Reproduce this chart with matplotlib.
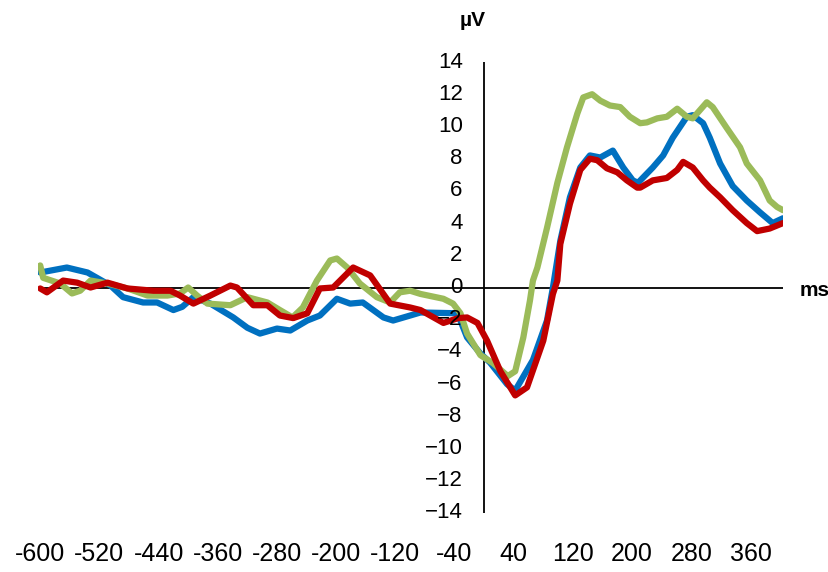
import matplotlib.pyplot as plt

# ERP waveforms, time in ms, amplitude in microvolts
blue_t = [-600, -564, -536, -505, -488, -461, -442, -420, -408, -393, -370, -339, -320, -303,
          -280, -262, -239, -222, -199, -181, -164, -136, -123, -100, -86, -36, -23, -5, 8,
          31, 42, 66, 85, 93, 103, 116, 130, 143, 157, 174, 188, 201, 208, 228, 242, 255,
          274, 282, 296, 305, 319, 336, 355, 373, 390, 404]
blue_v = [0.93, 1.24, 0.93, 0.12, -0.6, -0.93, -0.93, -1.4, -1.2, -0.6, -1.0, -1.86, -2.5, -2.86,
          -2.55, -2.67, -2.05, -1.74, -0.7, -1.0, -0.93, -1.86, -2.05, -1.74, -1.55, -1.6, -3.1, -4.1, -4.66,
          -6.0, -6.4, -4.5, -2.05, 0.0, 2.9, 5.6, 7.45, 8.2, 8.07, 8.5, 7.45, 6.65, 6.5, 7.45, 8.2, 9.3,
          10.6, 10.7, 10.2, 9.3, 7.7, 6.3, 5.4, 4.66, 4.0, 4.3]

green_t = [-600, -596, -573, -557, -546, -532, -509, -482, -455, -428, -411, -400, -388, -374,
           -343, -320, -293, -276, -259, -245, -226, -208, -199, -185, -168, -145, -127, -114,
           -100, -86, -55, -42, -32, -23, -5, 12, 32, 42, 53, 62, 66, 72, 85, 99, 112, 126,
           134, 146, 157, 170, 184, 197, 211, 220, 234, 247, 261, 274, 282, 301, 309, 328,
           346, 355, 373, 386, 396, 404]
green_v = [1.37, 0.6, 0.25, -0.37, -0.2, 0.43, 0.25, -0.06, -0.5, -0.5, -0.37, 0.0, -0.5, -1.0,
           -1.1, -0.6, -0.93, -1.4, -1.86, -1.24, 0.43, 1.68, 1.8, 1.24, 0.25, -0.6, -0.93, -0.3,
           -0.2, -0.4, -0.7, -1.0, -1.6, -2.86, -4.2, -4.7, -5.5, -5.2, -3.1, -0.8, 0.43, 1.24, 3.7, 6.5, 8.7, 10.8,
           11.8, 12.0, 11.6, 11.3, 11.2, 10.6, 10.2, 10.25, 10.5, 10.6, 11.1, 10.6, 10.5, 11.5, 11.2, 9.9,
           8.7, 7.7, 6.65, 5.4, 5.0, 4.8]

red_t = [-600, -591, -569, -550, -532, -509, -482, -447, -424, -411, -393, -370, -343, -334,
         -312, -293, -276, -258, -239, -222, -204, -177, -154, -127, -100, -86, -55, -35, -23,
         -9, 4, 22, 42, 58, 80, 93, 99, 103, 116, 130, 143, 153, 166, 180, 193, 207, 211, 228,
         247, 261, 269, 282, 296, 305, 319, 336, 355, 369, 386, 404]
red_v = [-0.06, -0.3, 0.43, 0.3, 0.0, 0.3, -0.06, -0.2, -0.2, -0.5, -1.0, -0.5, 0.12, 0.0,
         -1.1, -1.1, -1.74, -1.9, -1.6, -0.06, 0.0, 1.24, 0.75, -1.0, -1.24, -1.4, -2.2, -1.9, -1.86,
         -2.2, -3.3, -5.2, -6.7, -6.2, -3.3, -0.4, 0.43, 2.7, 5.2, 7.3, 8.0, 7.9, 7.4, 7.15, 6.65, 6.2, 6.2, 6.65,
         6.8, 7.3, 7.8, 7.45, 6.65, 6.2, 5.6, 4.8, 4.0, 3.5, 3.66, 4.0]

x_ticks = list(range(-600, 361, 80))
y_ticks = list(range(-14, 15, 2))

plt.rcParams['font.family'] = ['Liberation Sans', 'DejaVu Sans']

fig = plt.figure(figsize=(8.29, 5.72), dpi=100)
ax = fig.add_axes([38 / 829, 1 - 513 / 572, 745 / 829, 451 / 572])

line_kw = dict(lw=4.5, solid_joinstyle='round', solid_capstyle='round')
ax.plot(blue_t, blue_v, color='#0070C0', **line_kw)
ax.plot(green_t, green_v, color='#9BBB59', **line_kw)
ax.plot(red_t, red_v, color='#C00000', **line_kw)

ax.set_xlim(-603, 404)
ax.set_ylim(-14, 14)

# axes cross at zero
ax.axhline(0, color='black', lw=1.3, zorder=0)
ax.axvline(0, color='black', lw=1.3, zorder=0)
for s in ax.spines.values():
    s.set_visible(False)

ax.set_xticks(x_ticks)
ax.set_xticklabels([str(t) for t in x_ticks], fontsize=18)
ax.tick_params(axis='x', length=0, pad=21)
ax.set_yticks([])
for v in y_ticks:
    ax.text(-29, v, str(v).replace('-', '\u2212'), ha='right', va='center',
            fontsize=16, color='black')

ax.text(-15, 16.6, 'µV', ha='center', va='center', fontsize=15, fontweight='bold', clip_on=False)
fig.text(800 / 829, 1 - 290 / 572, 'ms', ha='left', va='center', fontsize=15, fontweight='bold')

plt.savefig('out.png', dpi=100)
